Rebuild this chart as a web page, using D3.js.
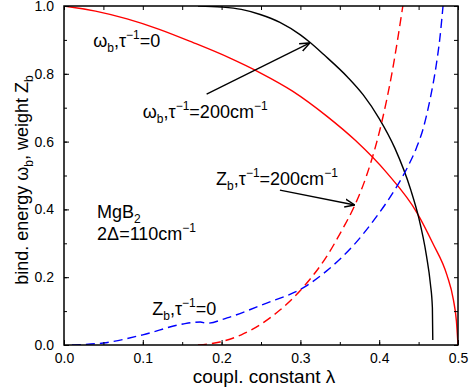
<!DOCTYPE html>
<html>
<head>
<meta charset="utf-8">
<script src="https://cdn.jsdelivr.net/npm/d3@7"></script>
<style>
  body { margin: 0; background: #fff; }
  text { font-family: "Liberation Sans", Arial, sans-serif; }
</style>
</head>
<body>
<script>
// values: [lambda, value]
var omegaTau0 = [[0, 1.0], [0.04, 0.985], [0.08, 0.962], [0.12, 0.932], [0.164, 0.892],
  [0.21, 0.847], [0.249, 0.803], [0.29, 0.749], [0.333, 0.676], [0.37, 0.603],
  [0.41, 0.507], [0.448, 0.39], [0.468, 0.30], [0.486, 0.206], [0.494, 0.135],
  [0.498, 0.07], [0.5, 0.0]];
var omegaTau200 = [[0.17, 1.0], [0.2, 0.997], [0.225, 0.99], [0.249, 0.975], [0.274, 0.952],
  [0.3, 0.915], [0.312, 0.893], [0.33, 0.856], [0.36, 0.79], [0.38, 0.737],
  [0.4, 0.668], [0.42, 0.58], [0.44, 0.458], [0.45, 0.377], [0.46, 0.263],
  [0.465, 0.18], [0.4675, 0.11], [0.468, 0.015]];
var zTau0 = [[0.01, 0.0], [0.02, 0.001], [0.05, 0.006], [0.1, 0.03], [0.151, 0.062],
  [0.173, 0.068], [0.181, 0.064], [0.207, 0.08], [0.253, 0.12], [0.306, 0.172],
  [0.333, 0.218], [0.367, 0.293], [0.397, 0.38], [0.423, 0.47], [0.435, 0.52],
  [0.447, 0.58], [0.456, 0.64], [0.465, 0.73], [0.472, 0.82], [0.477, 0.905], [0.481, 1.0]];
var zTau200 = [[0.17, 0.0], [0.198, 0.009], [0.225, 0.03], [0.249, 0.06], [0.274, 0.103],
  [0.306, 0.177], [0.333, 0.26], [0.353, 0.34], [0.369, 0.412], [0.384, 0.5],
  [0.403, 0.655], [0.416, 0.8], [0.43, 1.0]];

var xTicks = [0, 0.1, 0.2, 0.3, 0.4, 0.5];
var yTicks = [0, 0.2, 0.4, 0.6, 0.8, 1.0];

var width = 469;
var height = 390;
var margin = {top: 6, right: 11, bottom: 45, left: 64};

var svg = d3.select('body').append('svg')
  .attr('width', width)
  .attr('height', height);

var x = d3.scaleLinear().domain([0, 0.5]).range([margin.left, width - margin.right]);
var y = d3.scaleLinear().domain([0, 1]).range([height - margin.bottom, margin.top]);

svg.append('clipPath').attr('id', 'clip').append('rect')
  .attr('x', x(0)).attr('y', y(1))
  .attr('width', x(0.5) - x(0)).attr('height', y(0) - y(1));

var line = d3.line()
  .x(function(d) { return x(d[0]); })
  .y(function(d) { return y(d[1]); })
  .curve(d3.curveMonotoneX);

var curves = [
  {data: omegaTau0, color: '#ff0000', dash: null},
  {data: omegaTau200, color: '#000000', dash: null},
  {data: zTau0, color: '#0000ff', dash: '9,5'},
  {data: zTau200, color: '#ff0000', dash: '9,5'}
];

var plot = svg.append('g').attr('clip-path', 'url(#clip)');
curves.forEach(function(c) {
  plot.append('path')
    .attr('d', line(c.data))
    .attr('fill', 'none')
    .attr('stroke', c.color)
    .attr('stroke-width', 1.4)
    .attr('stroke-dasharray', c.dash);
});

// axes, ticks pointing inward on all four sides
var minorX = d3.range(0, 0.501, 0.05);
var minorY = d3.range(0, 1.001, 0.1);

var bottom = svg.append('g').attr('transform', 'translate(0,' + y(0) + ')')
  .call(d3.axisBottom(x).tickValues(xTicks).tickSizeInner(-5).tickSizeOuter(0).tickPadding(8)
    .tickFormat(d3.format('.1f')));
bottom.append('g').call(d3.axisBottom(x).tickValues(minorX).tickSize(-3).tickFormat(''));
var top = svg.append('g').attr('transform', 'translate(0,' + y(1) + ')')
  .call(d3.axisTop(x).tickValues(minorX).tickSize(-4).tickSizeOuter(0).tickFormat(''));
var left = svg.append('g').attr('transform', 'translate(' + x(0) + ',0)')
  .call(d3.axisLeft(y).tickValues(yTicks).tickSizeInner(-5).tickSizeOuter(0).tickPadding(10)
    .tickFormat(d3.format('.1f')));
left.append('g').call(d3.axisLeft(y).tickValues(minorY).tickSize(-3).tickFormat(''));
var right = svg.append('g').attr('transform', 'translate(' + x(0.5) + ',0)')
  .call(d3.axisRight(y).tickValues(minorY).tickSize(-4).tickSizeOuter(0).tickFormat(''));

svg.selectAll('.domain').remove();
svg.selectAll('.tick line').attr('stroke', '#000').attr('stroke-width', 1);
svg.selectAll('.tick text').attr('font-size', 14).attr('fill', '#000')
  .attr('font-family', '"Liberation Sans", Arial, sans-serif');

svg.append('rect')
  .attr('x', x(0)).attr('y', y(1))
  .attr('width', x(0.5) - x(0)).attr('height', y(0) - y(1))
  .attr('fill', 'none').attr('stroke', '#000').attr('stroke-width', 1.5);

// axis titles
svg.append('text')
  .attr('x', 264).attr('y', 383)
  .attr('text-anchor', 'middle').attr('font-size', 19)
  .text('coupl. constant \u03bb');

var yt = svg.append('text')
  .attr('transform', 'translate(28,' + 180 + ') rotate(-90)')
  .attr('text-anchor', 'middle').attr('font-size', 18);
yt.append('tspan').text('bind. energy \u03c9');
yt.append('tspan').attr('font-size', 12).attr('dy', 5).text('b');
yt.append('tspan').attr('dy', -5).text(', weight Z');
yt.append('tspan').attr('font-size', 12).attr('dy', 5).text('b');

// annotations placed in data coordinates
function label(lx, ly, parts) {
  var t = svg.append('text').attr('x', x(lx)).attr('y', y(ly)).attr('font-size', 18);
  parts.forEach(function(p) {
    var s = t.append('tspan').text(p.t);
    if (p.sub) s.attr('font-size', 12).attr('dy', 5);
    if (p.sup) s.attr('font-size', 12).attr('dy', -8);
    if (p.dy) s.attr('dy', p.dy);
  });
}
function tau(head, tail) {
  return [{t: head}, {t: 'b', sub: true}, {t: ',\u03c4', dy: -5}, {t: '\u22121', sup: true},
    {t: '=' + tail, dy: 8}];
}
label(0.037, 0.879, tau('\u03c9', '0'));
label(0.100, 0.67, tau('\u03c9', '200cm').concat([{t: '\u22121', sup: true}]));
label(0.193, 0.472, tau('Z', '200cm').concat([{t: '\u22121', sup: true}]));
label(0.112, 0.088, tau('Z', '0'));
label(0.042, 0.375, [{t: 'MgB'}, {t: '2', sub: true}]);
label(0.042, 0.31, [{t: '2\u0394=110cm'}, {t: '\u22121', sup: true}]);

// arrows
svg.append('defs').append('marker')
  .attr('id', 'head').attr('viewBox', '0 -5 10 10')
  .attr('refX', 10).attr('refY', 0)
  .attr('markerWidth', 10).attr('markerHeight', 10)
  .attr('markerUnits', 'userSpaceOnUse')
  .attr('orient', 'auto')
  .append('path').attr('d', 'M0,-4L10,0L0,4')
  .attr('fill', 'none').attr('stroke', '#000').attr('stroke-width', 1.5);

var arrows = [[[0.181, 0.740], [0.312, 0.891]], [[0.274, 0.457], [0.369, 0.413]]];
arrows.forEach(function(a) {
  svg.append('line')
    .attr('x1', x(a[0][0])).attr('y1', y(a[0][1]))
    .attr('x2', x(a[1][0])).attr('y2', y(a[1][1]))
    .attr('stroke', '#000').attr('stroke-width', 1.3)
    .attr('marker-end', 'url(#head)');
});
</script>
</body>
</html>
